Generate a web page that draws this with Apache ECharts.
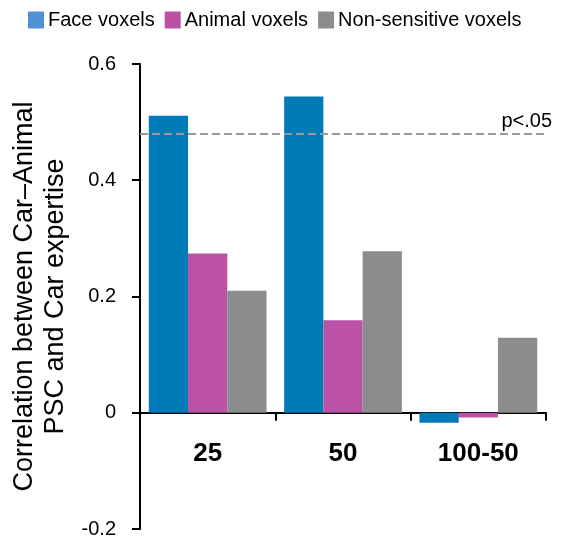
<!DOCTYPE html>
<html>
<head>
<meta charset="utf-8">
<script src="https://cdn.jsdelivr.net/npm/echarts@6/dist/echarts.min.js"></script>
<style>
html,body{margin:0;padding:0;background:#fff;}
#chart{width:578px;height:544px;}
</style>
</head>
<body>
<div id="chart"></div>
<script>
const categories = ['25', '50', '100-50'];
const faceVoxels = [0.511, 0.544, -0.017];
const animalVoxels = [0.274, 0.159, -0.008];
const nonSensitiveVoxels = [0.210, 0.278, 0.129];
const significanceLevel = 0.482;
const significanceLabel = 'p<.05';
const seriesNames = ['Face voxels', 'Animal voxels', 'Non-sensitive voxels'];
const yTicks = { min: -0.2, max: 0.6, interval: 0.2 };

const barColors = ['#007bb8', '#bb52a5', '#8c8c8c'];
const legendColors = ['#4f91d4', '#bd4fa3', '#8c8c8c'];

const chart = echarts.init(document.getElementById('chart'), null, { renderer: 'canvas' });
const font = '"Liberation Sans", Arial, sans-serif';

const option = {
  animation: false,
  backgroundColor: '#fff',
  textStyle: { fontFamily: font },
  legend: {
    left: 28,
    top: 10,
    padding: 0,
    itemWidth: 16,
    itemHeight: 17,
    itemGap: 10,
    icon: 'rect',
    textStyle: { fontSize: 20, color: '#000', fontFamily: font, padding: [0, 0, 0, -1] },
    data: seriesNames.map((n, i) => ({ name: n, itemStyle: { color: legendColors[i] } }))
  },
  grid: { left: 140, right: 32, top: 64, bottom: 15, containLabel: false, outerBoundsMode: 'none' },
  xAxis: {
    type: 'category',
    data: categories,
    axisLine: { onZero: true, lineStyle: { color: '#000', width: 2 } },
    axisTick: { show: true, length: 8, inside: false, lineStyle: { color: '#000', width: 2 } },
    axisLabel: { fontSize: 26, fontWeight: 'bold', color: '#000', margin: -88, fontFamily: font }
  },
  yAxis: {
    type: 'value',
    min: yTicks.min,
    max: yTicks.max,
    interval: yTicks.interval,
    splitLine: { show: false },
    axisLine: { show: true, lineStyle: { color: '#000', width: 2 } },
    axisTick: { show: true, length: 8, lineStyle: { color: '#000', width: 2 } },
    axisLabel: { fontSize: 20, color: '#000', margin: 24, fontFamily: font },
    name: 'Correlation between Car\u2013Animal\nPSC and Car expertise',
    nameLocation: 'middle',
    nameGap: 69,
    nameTextStyle: { fontSize: 27, color: '#000', lineHeight: 31, fontFamily: font }
  },
  series: [
    {
      name: seriesNames[0], type: 'bar', data: faceVoxels,
      itemStyle: { color: barColors[0] }, barGap: '0%', barCategoryGap: '13%',
      markLine: {
        silent: true, symbol: 'none',
        lineStyle: { color: '#999', type: [8, 4], width: 2 },
        label: { show: true, position: 'insideEndTop', formatter: significanceLabel, fontSize: 20, color: '#000', offset: [11, 3], fontFamily: font },
        data: [{ yAxis: significanceLevel }]
      }
    },
    { name: seriesNames[1], type: 'bar', data: animalVoxels, itemStyle: { color: barColors[1] }, barGap: '0%', barCategoryGap: '13%' },
    { name: seriesNames[2], type: 'bar', data: nonSensitiveVoxels, itemStyle: { color: barColors[2] }, barGap: '0%', barCategoryGap: '13%' }
  ]
};
chart.setOption(option);
</script>
</body>
</html>
